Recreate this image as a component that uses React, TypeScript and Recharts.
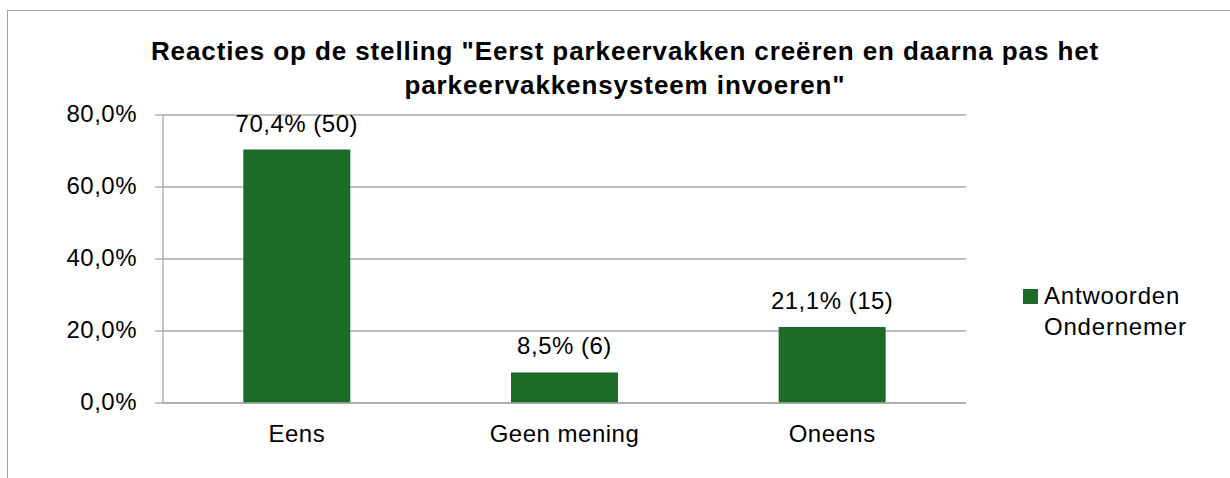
import React from "react";
import { BarChart, Bar, XAxis, YAxis, CartesianGrid, LabelList } from "recharts";

const categories = ["Eens", "Geen mening", "Oneens"];
const percentages = [70.4, 8.5, 21.1];
const counts = [50, 6, 15];
const yTicks = [0, 20, 40, 60, 80];
const boundaryTicks = [0, 1, 2, 3];
const seriesName = "Antwoorden Ondernemer";
const titleLines = [
  'Reacties op de stelling "Eerst parkeervakken creëren en daarna pas het',
  'parkeervakkensysteem invoeren"',
];

const data = categories.map((c, i) => ({ name: c, value: percentages[i], count: counts[i] }));

const FONT = "'Liberation Sans', Arial, sans-serif";
const GREEN = "#1C6B27";
const GRID = "#A8A8A8";
const LS = 0.5;

const fmtPct = (v: number) => v.toFixed(1).replace(".", ",") + "%";

const BarLabel = (props: any) => {
  const { x, y, width, index } = props;
  const d = data[index];
  return (
    <text
      x={x + width / 2}
      y={y - 18}
      textAnchor="middle"
      fontFamily={FONT}
      fontSize={24}
      letterSpacing={LS}
      fill="#000"
    >
      {`${fmtPct(d.value)} (${d.count})`}
    </text>
  );
};

export default function App() {
  return (
    <div style={{ position: "absolute", left: 0, top: 0, width: 1230, height: 478, background: "#fff", overflow: "hidden" }}>
      <div
        style={{
          position: "absolute",
          left: 7,
          top: 10,
          width: 1240,
          height: 480,
          border: "1px solid #A0A0A0",
          boxSizing: "border-box",
        }}
      />
      <div
        style={{
          position: "absolute",
          left: 0,
          top: 34,
          width: 1250,
          textAlign: "center",
          fontFamily: FONT,
          fontWeight: "bold",
          fontSize: 26,
          letterSpacing: 0.9,
          lineHeight: "34px",
          color: "#000",
        }}
      >
        {titleLines.map((l, i) => (
          <div key={i}>{l}</div>
        ))}
      </div>
      <div style={{ position: "absolute", left: 0, top: 0 }}>
        <BarChart
          width={1230}
          height={478}
          data={data}
          margin={{ top: 115, left: 103, right: 264, bottom: 0 }}
          barCategoryGap="30%"
        >
          <CartesianGrid vertical={false} stroke={GRID} strokeWidth={1.3} />
          <XAxis
            dataKey="name"
            xAxisId="cat"
            height={75}
            axisLine={{ stroke: GRID, strokeWidth: 1.3 }}
            tickLine={false}
            tick={{ fill: "#000", fontSize: 24, fontFamily: FONT, letterSpacing: LS }}
            tickMargin={16}
            interval={0}
          />
          <XAxis
            xAxisId="bnd"
            type="number"
            domain={[0, 3]}
            ticks={boundaryTicks}
            height={0}
            axisLine={false}
            tickLine={{ stroke: GRID, strokeWidth: 1.3 }}
            tickSize={9}
            tick={false}
          />
          <YAxis
            width={60}
            domain={[0, 80]}
            ticks={yTicks}
            tickFormatter={fmtPct}
            axisLine={{ stroke: GRID, strokeWidth: 1.3 }}
            tickLine={{ stroke: GRID, strokeWidth: 1.3 }}
            tickSize={8}
            tickMargin={18}
            tick={{ fill: "#000", fontSize: 24, fontFamily: FONT, letterSpacing: LS, dy: -2 }}
          />
          <Bar dataKey="value" xAxisId="cat" fill={GREEN} name={seriesName} isAnimationActive={false}>
            <LabelList dataKey="value" content={BarLabel} />
          </Bar>
        </BarChart>
      </div>
      <div
        style={{
          position: "absolute",
          left: 1023,
          top: 289,
          width: 15,
          height: 15,
          background: GREEN,
        }}
      />
      <div
        style={{
          position: "absolute",
          left: 1044,
          top: 280,
          fontFamily: FONT,
          fontSize: 24,
          letterSpacing: 0.8,
          lineHeight: "31px",
          color: "#000",
          width: 180,
        }}
      >
        Antwoorden
        <br />
        Ondernemer
      </div>
    </div>
  );
}
